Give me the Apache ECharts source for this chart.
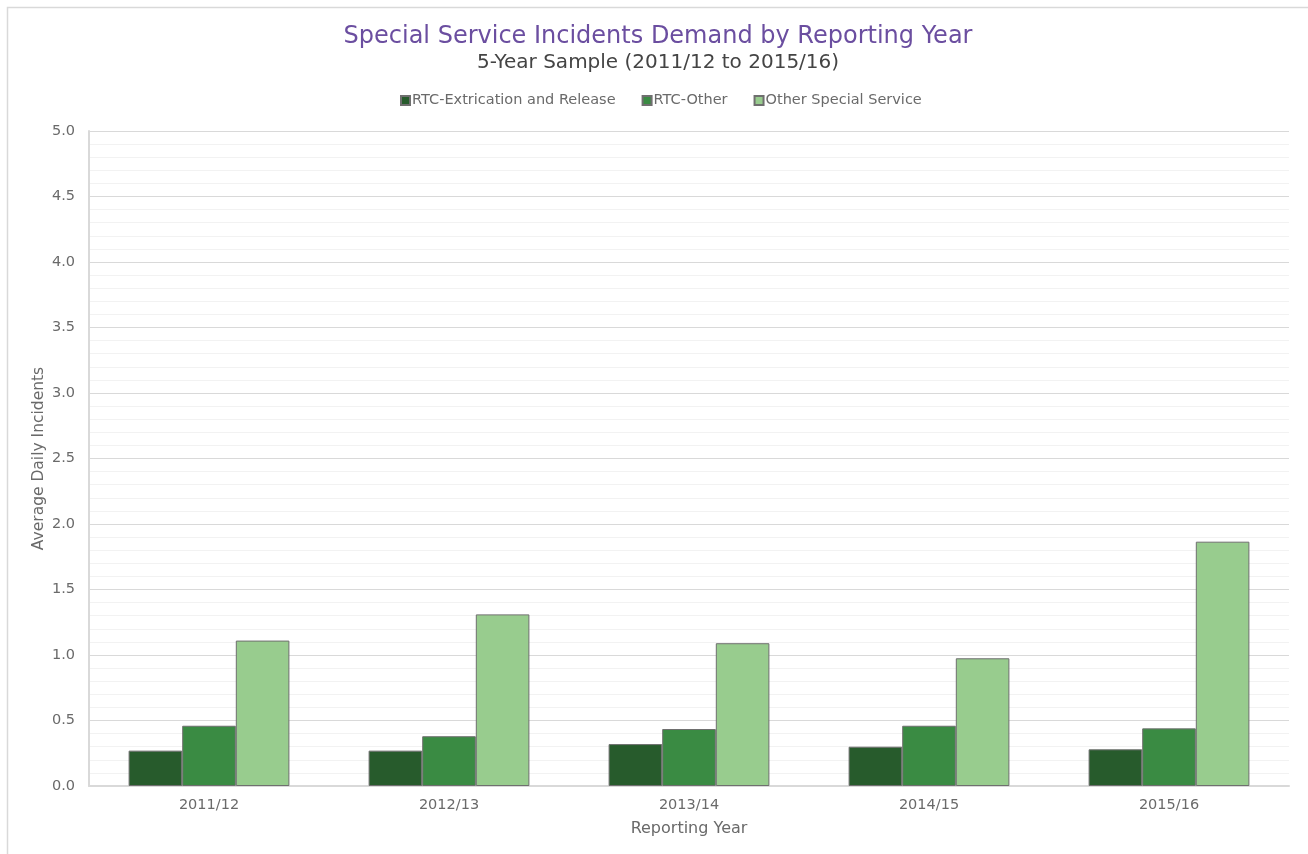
<!DOCTYPE html>
<html>
<head>
<meta charset="utf-8">
<title>Special Service Incidents Demand by Reporting Year</title>
<script src="https://cdn.jsdelivr.net/npm/echarts@6/dist/echarts.min.js"></script>
<style>
  html, body { margin: 0; padding: 0; background: #ffffff; }
  #chart { width: 1308px; height: 854px; }
</style>
</head>
<body>
<div id="chart"></div>
<script>
// Reporting years (categories)
const years = ['2011/12', '2012/13', '2013/14', '2014/15', '2015/16'];

// Average daily incidents per series
const rtcExtrication = [0.27, 0.27, 0.32, 0.30, 0.28];
const rtcOther = [0.46, 0.38, 0.435, 0.46, 0.44];
const otherSpecial = [1.11, 1.31, 1.09, 0.975, 1.865];

const seriesNames = ['RTC-Extrication and Release', 'RTC-Other', 'Other Special Service'];
const seriesColors = ['#275b2c', '#3a8b43', '#98cc8e'];

const FONT = '"DejaVu Sans", "Open Sans", sans-serif';
const TEXT = '#6a6a6a';

const chart = echarts.init(document.getElementById('chart'), null, { renderer: 'canvas' });

function barSeries(name, data, color) {
  return {
    name: name,
    type: 'bar',
    data: data,
    barGap: '0%',
    barCategoryGap: '33%',
    itemStyle: { color: color, borderColor: '#6f6f6f', borderWidth: 1 },
    emphasis: { disabled: true }
  };
}

chart.setOption({
  backgroundColor: '#ffffff',
  animation: false,
  textStyle: { fontFamily: FONT },
  graphic: [{
    type: 'rect',
    shape: { x: 7.5, y: 7.5, width: 1330, height: 880 },
    style: { fill: 'none', stroke: '#d9d9d9', lineWidth: 1.5 },
    silent: true,
    z: -1
  }],
  title: {
    text: 'Special Service Incidents Demand by Reporting Year',
    subtext: '5-Year Sample (2011/12 to 2015/16)',
    left: 653,
    textAlign: 'center',
    top: 20,
    itemGap: 4,
    textStyle: { fontFamily: FONT, fontSize: 24, fontWeight: 'normal', color: '#6b4ea0' },
    subtextStyle: { fontFamily: FONT, fontSize: 20, color: '#444444' }
  },
  legend: {
    data: seriesNames,
    top: 88,
    left: 395,
    itemWidth: 9,
    itemHeight: 9,
    itemGap: 26,
    icon: 'rect',
    textStyle: { fontFamily: FONT, fontSize: 14.5, color: TEXT, padding: [0, 0, 0, -3] }
  },
  grid: { left: 89, right: 19, top: 131, bottom: 68, containLabel: false },
  xAxis: {
    type: 'category',
    data: years,
    name: 'Reporting Year',
    nameLocation: 'middle',
    nameGap: 35,
    nameTextStyle: { fontFamily: FONT, fontSize: 16, color: TEXT },
    axisLine: { lineStyle: { color: '#d9d9d9', width: 2 } },
    axisTick: { show: false },
    axisLabel: { fontFamily: FONT, fontSize: 14.5, color: TEXT, margin: 12 },
    splitLine: { show: false }
  },
  yAxis: {
    type: 'value',
    min: 0,
    max: 5,
    interval: 0.5,
    name: 'Average Daily Incidents',
    nameLocation: 'middle',
    nameGap: 42,
    nameMoveOverlap: false,
    nameTextStyle: { fontFamily: FONT, fontSize: 15.5, color: TEXT },
    axisLine: { show: true, lineStyle: { color: '#d9d9d9', width: 2 } },
    axisTick: { show: false },
    axisLabel: {
      fontFamily: FONT, fontSize: 14.5, color: TEXT, margin: 14,
      formatter: v => v.toFixed(1)
    },
    splitLine: { show: true, lineStyle: { color: '#d9d9d9', width: 1 } },
    minorTick: { show: false, splitNumber: 5 },
    minorSplitLine: { show: true, lineStyle: { color: '#f2f2f2', width: 1 } }
  },
  series: [
    barSeries(seriesNames[0], rtcExtrication, seriesColors[0]),
    barSeries(seriesNames[1], rtcOther, seriesColors[1]),
    barSeries(seriesNames[2], otherSpecial, seriesColors[2])
  ]
});
</script>
</body>
</html>
